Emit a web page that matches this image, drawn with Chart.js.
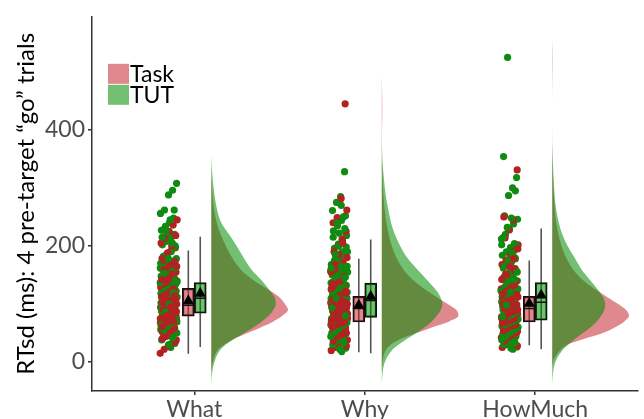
<!DOCTYPE html>
<html>
<head>
<meta charset="utf-8">
<script src="https://cdn.jsdelivr.net/npm/chart.js@4.4.1/dist/chart.umd.min.js"></script>
<style>
  html, body { margin: 0; padding: 0; background: #fff; }
  #wrap { width: 644px; height: 419px; }
</style>
</head>
<body>
<div id="wrap"><canvas id="rainChart" width="644" height="419"></canvas></div>
<script>
const categories = ['What', 'Why', 'HowMuch'];
const groups = ['Task', 'TUT'];
const yTicks = [0, 200, 400];

// RTsd per participant (ms)
const whatTask = [15, 22, 28, 33, 38, 42, 45, 48, 50, 52, 55, 57, 59, 61, 63, 65, 66, 68, 70, 71,
  73, 74, 76, 77, 79, 80, 82, 83, 85, 86, 88, 89, 91, 92, 94, 95, 97, 98, 100, 101,
  103, 105, 107, 109, 111, 113, 115, 117, 119, 122, 125, 128, 131, 134, 137, 140, 143, 147, 151, 155,
  159, 163, 168, 173, 178, 184, 190, 197, 205, 214, 225, 236, 245, 160, 120, 90, 75, 60, 110, 130,
  35, 40, 46, 53, 58, 62, 67, 69, 72, 75, 78, 81, 84, 87, 90, 93, 96, 99, 102, 104,
  106, 108, 112, 116, 121, 126, 133, 138, 145, 152, 165, 176, 188, 200, 218, 62, 80, 95, 114, 142];
const whatTut = [25, 32, 38, 44, 48, 52, 56, 60, 63, 66, 69, 72, 75, 77, 80, 82, 85, 87, 90, 92,
  95, 97, 100, 102, 105, 107, 110, 112, 115, 117, 120, 122, 125, 128, 130, 133, 136, 139, 142, 145,
  148, 151, 155, 158, 162, 166, 170, 174, 178, 182, 187, 192, 197, 202, 208, 214, 220, 227, 234, 240,
  248, 256, 262, 288, 296, 308, 70, 95, 115, 135, 160, 185, 210, 58, 88, 108, 125, 145, 170, 230,
  30, 42, 50, 55, 62, 68, 74, 79, 84, 89, 93, 98, 103, 108, 113, 118, 123, 127, 132, 138,
  143, 150, 156, 163, 172, 180, 190, 200, 215, 225, 245, 262, 64, 86, 100, 119, 137, 153, 178, 205];
const whyTask = [20, 25, 30, 34, 38, 42, 45, 48, 50, 53, 55, 57, 59, 61, 63, 65, 67, 68, 70, 72,
  73, 75, 76, 78, 79, 81, 82, 84, 85, 87, 88, 90, 91, 93, 95, 96, 98, 100, 102, 104,
  106, 108, 110, 112, 114, 117, 120, 123, 126, 129, 133, 137, 141, 145, 150, 155, 160, 166, 172, 180,
  190, 200, 212, 225, 240, 249, 282, 445, 65, 80, 95, 110, 125, 140, 70, 85, 100, 58, 118, 150,
  28, 36, 44, 52, 56, 60, 64, 66, 69, 71, 74, 77, 80, 83, 86, 89, 92, 94, 97, 99,
  101, 103, 107, 111, 116, 121, 127, 132, 138, 147, 157, 168, 185, 205, 262, 75, 88, 104, 122, 135];
const whyTut = [18, 24, 30, 36, 41, 46, 50, 54, 58, 61, 64, 67, 70, 73, 76, 78, 81, 84, 86, 89,
  91, 94, 96, 99, 101, 104, 106, 109, 111, 114, 117, 120, 123, 126, 129, 132, 135, 138, 142, 146,
  150, 154, 158, 163, 168, 173, 178, 184, 190, 196, 203, 210, 218, 226, 235, 244, 252, 261, 275, 285,
  328, 75, 95, 115, 135, 155, 175, 200, 88, 108, 128, 148, 62, 97, 118, 140, 165, 230, 105, 125,
  22, 33, 44, 52, 57, 63, 68, 72, 77, 82, 87, 92, 97, 102, 107, 112, 118, 124, 130, 136,
  143, 150, 157, 165, 172, 180, 190, 198, 215, 240, 270, 80, 93, 110, 127, 145, 162, 185, 222, 250];
const howTask = [25, 30, 34, 38, 42, 45, 48, 51, 53, 55, 57, 59, 61, 63, 65, 66, 68, 70, 71, 73,
  74, 76, 77, 79, 80, 82, 83, 85, 86, 88, 89, 91, 93, 94, 96, 98, 100, 102, 104, 106,
  108, 110, 112, 115, 118, 121, 124, 127, 131, 135, 139, 144, 149, 155, 161, 168, 175, 183, 192, 202,
  214, 228, 245, 331, 60, 72, 84, 96, 108, 120, 132, 67, 78, 90, 102, 114, 126, 56, 140, 160,
  28, 36, 43, 47, 50, 54, 58, 62, 64, 67, 69, 72, 75, 78, 81, 84, 87, 90, 92, 95,
  97, 99, 101, 105, 109, 113, 117, 122, 128, 133, 142, 152, 165, 178, 195, 70, 85, 100, 116, 250];
const howTut = [22, 26, 30, 35, 40, 44, 48, 52, 56, 59, 62, 65, 68, 71, 74, 77, 80, 83, 85, 88,
  91, 94, 97, 100, 103, 106, 109, 112, 115, 118, 121, 124, 128, 132, 136, 140, 144, 148, 152, 157,
  162, 167, 172, 178, 184, 190, 197, 204, 212, 220, 228, 238, 246, 252, 287, 300, 318, 354, 525, 70,
  92, 114, 136, 158, 180, 202, 60, 82, 104, 126, 148, 170, 50, 95, 117, 139, 35, 75, 99, 123,
  24, 33, 38, 45, 50, 55, 60, 64, 67, 70, 73, 76, 79, 82, 86, 90, 93, 96, 99, 102,
  105, 110, 116, 122, 130, 138, 146, 155, 165, 175, 188, 200, 215, 232, 248, 295, 78, 98, 120, 142];

// box stats per category: [low whisker, q1, median, q3, high whisker]
const taskBox = [[14, 79, 98, 127, 192], [17, 69, 92, 113, 178], [29, 69, 92, 113, 175]];
const tutBox = [[26, 84, 110, 137, 216], [15, 77, 106, 136, 211], [22, 72, 103, 137, 230]];
const taskMean = [105, 98, 101];
const tutMean = [118, 113, 115];

// half-violin densities (relative), sampled at densityY
const densityY = [-40, -20, 0, 20, 30, 40, 50, 60, 70, 80, 90, 100, 110, 120, 140, 160, 180, 200,
  220, 240, 260, 280, 300, 320, 340, 360, 380, 400, 420, 440, 460, 480, 500, 520, 540, 560];
const whatTaskDens = [0, 0, 0.02, 0.08, 0.17, 0.3, 0.47, 0.65, 0.81, 0.93, 1.0, 0.96, 0.9, 0.8, 0.56, 0.38, 0.27, 0.19,
  0.12, 0.07, 0.04, 0.02, 0.01, 0.004, 0, 0, 0, 0, 0, 0, 0, 0, 0, 0, 0, 0];
const whatTutDens = [0, 0.01, 0.04, 0.11, 0.19, 0.3, 0.43, 0.55, 0.66, 0.75, 0.81, 0.84, 0.83, 0.78, 0.66, 0.52, 0.42, 0.33,
  0.23, 0.13, 0.08, 0.05, 0.03, 0.015, 0.005, 0, 0, 0, 0, 0, 0, 0, 0, 0, 0, 0];
const whyTaskDens = [0, 0, 0.01, 0.05, 0.12, 0.25, 0.45, 0.66, 0.88, 1.0, 0.97, 0.86, 0.74, 0.62, 0.42, 0.28, 0.19, 0.13,
  0.09, 0.06, 0.04, 0.025, 0.015, 0.008, 0.004, 0.002, 0.002, 0.003, 0.006, 0.007, 0.005, 0.002, 0, 0, 0, 0];
const whyTutDens = [0, 0.01, 0.04, 0.13, 0.22, 0.33, 0.45, 0.56, 0.65, 0.72, 0.77, 0.79, 0.77, 0.73, 0.6, 0.46, 0.33, 0.24,
  0.17, 0.12, 0.09, 0.06, 0.04, 0.025, 0.012, 0.005, 0.002, 0, 0, 0, 0, 0, 0, 0, 0, 0];
const howTaskDens = [0, 0, 0.01, 0.1, 0.2, 0.42, 0.66, 0.82, 0.94, 1.0, 0.96, 0.86, 0.74, 0.62, 0.41, 0.27, 0.18, 0.12,
  0.08, 0.05, 0.035, 0.025, 0.015, 0.01, 0.006, 0.002, 0, 0, 0, 0, 0, 0, 0, 0, 0, 0];
const howTutDens = [0, 0.01, 0.04, 0.13, 0.21, 0.3, 0.4, 0.5, 0.58, 0.64, 0.68, 0.69, 0.67, 0.62, 0.5, 0.38, 0.29, 0.2,
  0.13, 0.085, 0.055, 0.035, 0.025, 0.016, 0.01, 0.005, 0.002, 0.001, 0, 0, 0.001, 0.002, 0.004, 0.005, 0.003, 0];

// colours
const dotColors = ['#B22222', '#118A11'];
const fillColors = ['rgba(196, 40, 50, 0.55)', 'rgba(0, 140, 0, 0.55)'];

// layout in category units (1 category = 1 unit on the x scale)
const jitterCenter = -0.15;
const jitterHalf = 0.05;
const boxOffset = 0.035;
const violinStart = 0.1;
const violinWidth = 0.45;
const FONT = 'Lato';

function jitter(i) {
    return (((i * 0.6180339887) % 1) * 2 - 1) * jitterHalf;
}

// keep only the part of a density curve that is actually drawn (plus one zero each end)
function densityPoints(dens, x0) {
    let first = dens.findIndex(d => d > 0);
    let last = dens.length - 1;
    while (last > 0 && dens[last] === 0) last--;
    first = Math.max(0, first - 1);
    last = Math.min(dens.length - 1, last + 1);
    const out = [];
    for (let i = first; i <= last; i++) {
        out.push({ x: x0 + violinStart + dens[i] * violinWidth, y: densityY[i] });
    }
    return out;
}

const pointSets = [[whatTask, whatTut], [whyTask, whyTut], [howTask, howTut]];
const densSets = [[whatTaskDens, whatTutDens], [whyTaskDens, whyTutDens], [howTaskDens, howTutDens]];
const boxSets = [taskBox, tutBox];
const meanSets = [taskMean, tutMean];

const datasets = [];

categories.forEach((cat, c) => {
    const x0 = c + 1;

    // half violins (Task under TUT)
    [0, 1].forEach(g => {
        datasets.push({
            type: 'line',
            indexAxis: 'y',
            order: 60 - g,
            data: densityPoints(densSets[c][g], x0),
            fill: { value: x0 + violinStart },
            backgroundColor: fillColors[g],
            borderWidth: 0,
            pointRadius: 0,
            cubicInterpolationMode: 'monotone'
        });
    });

    // jittered dots, Task and TUT interleaved so they mix
    const [tk, tt] = pointSets[c];
    const pts = [];
    const cols = [];
    const n = Math.max(tk.length, tt.length);
    let k = c * 13;
    for (let i = 0; i < n; i++) {
        if (i < tk.length) { pts.push({ x: x0 + jitterCenter + jitter(k++), y: tk[i] }); cols.push(dotColors[0]); }
        if (i < tt.length) { pts.push({ x: x0 + jitterCenter + jitter(k++), y: tt[i] }); cols.push(dotColors[1]); }
    }
    datasets.push({
        type: 'scatter',
        order: 30,
        data: pts,
        pointBackgroundColor: cols,
        pointBorderWidth: 0,
        pointRadius: 3.6
    });
});

// whiskers
const whiskerData = [];
categories.forEach((cat, c) => {
    [0, 1].forEach(g => {
        const xc = c + 1 + (g === 0 ? -boxOffset : boxOffset);
        const b = boxSets[g][c];
        whiskerData.push({ x: xc, y: b[0] }, { x: xc, y: b[4] }, { x: xc, y: null });
    });
});
datasets.push({
    type: 'line',
    order: 40,
    data: whiskerData,
    borderColor: '#555555',
    borderWidth: 1.6,
    pointRadius: 0,
    fill: false,
    spanGaps: false
});

// boxes (floating bars q1..q3)
[0, 1].forEach(g => {
    datasets.push({
        type: 'bar',
        order: 20,
        grouped: false,
        data: boxSets[g].map((b, c) => ({ x: c + 1 + (g === 0 ? -boxOffset : boxOffset), y: [b[1], b[3]] })),
        backgroundColor: fillColors[g],
        borderColor: '#111111',
        borderWidth: 1.5,
        borderSkipped: false,
        barThickness: 12
    });
});

// medians
const medianData = [];
categories.forEach((cat, c) => {
    [0, 1].forEach(g => {
        const xc = c + 1 + (g === 0 ? -boxOffset : boxOffset);
        const m = boxSets[g][c][2];
        medianData.push({ x: xc - boxOffset, y: m }, { x: xc + boxOffset, y: m }, { x: xc + boxOffset, y: null });
    });
});
datasets.push({
    type: 'line',
    order: 10,
    data: medianData,
    borderColor: '#111111',
    borderWidth: 1.5,
    pointRadius: 0,
    fill: false
});

// means
[0, 1].forEach(g => {
    datasets.push({
        type: 'scatter',
        order: 0,
        data: meanSets[g].map((m, c) => ({ x: c + 1 + (g === 0 ? -boxOffset : boxOffset), y: m })),
        pointStyle: 'triangle',
        pointRadius: 6.5,
        pointBackgroundColor: '#000',
        pointBorderColor: '#000',
        pointBorderWidth: 0
    });
});

// legend inside the panel, top-left
const insideLegend = {
    id: 'insideLegend',
    afterDraw(chart) {
        const { ctx, chartArea } = chart;
        const x = chartArea.left + 16;
        let y = chartArea.top + 47;
        ctx.save();
        ctx.font = `23px ${FONT}`;
        ctx.textBaseline = 'middle';
        groups.forEach((name, i) => {
            ctx.fillStyle = fillColors[i];
            ctx.fillRect(x, y, 21, 20);
            ctx.fillStyle = '#000';
            ctx.fillText(name, x + 22, y + 11);
            y += 21;
        });
        ctx.restore();
    }
};

new Chart(document.getElementById('rainChart'), {
    type: 'scatter',
    data: { datasets },
    options: {
        responsive: false,
        animation: false,
        layout: { padding: { top: 15, right: 0, bottom: 0, left: 0 } },
        plugins: {
            legend: { display: false },
            tooltip: { enabled: false }
        },
        scales: {
            x: {
                type: 'linear',
                min: 0.4,
                max: 3.6,
                offset: false,
                afterBuildTicks: s => { s.ticks = categories.map((c, i) => ({ value: i + 1 })); },
                afterFit: s => { s.height = 28; },
                grid: { display: true, drawOnChartArea: false, drawTicks: true, tickLength: 4, color: '#333', lineWidth: 1.5, offset: false },
                border: { display: true, color: '#333', width: 1.5 },
                ticks: {
                    color: '#4D4D4D',
                    font: { family: FONT, size: 23 },
                    padding: 1,
                    maxRotation: 0,
                    callback: v => categories[Math.round(v) - 1]
                }
            },
            y: {
                type: 'linear',
                min: -50,
                max: 595,
                afterBuildTicks: s => { s.ticks = yTicks.map(v => ({ value: v })); },
                afterFit: s => { s.width = 92; },
                grid: { display: true, drawOnChartArea: false, drawTicks: true, tickLength: 4, color: '#333', lineWidth: 1.5 },
                border: { display: true, color: '#333', width: 1.5 },
                ticks: { color: '#4D4D4D', font: { family: FONT, size: 23 }, padding: 3 },
                title: {
                    display: true,
                    text: 'RTsd (ms): 4 pre-target “go” trials',
                    color: '#000',
                    font: { family: FONT, size: 24 },
                    padding: { top: 12, bottom: 0 }
                }
            }
        }
    },
    plugins: [insideLegend]
});
</script>
</body>
</html>
